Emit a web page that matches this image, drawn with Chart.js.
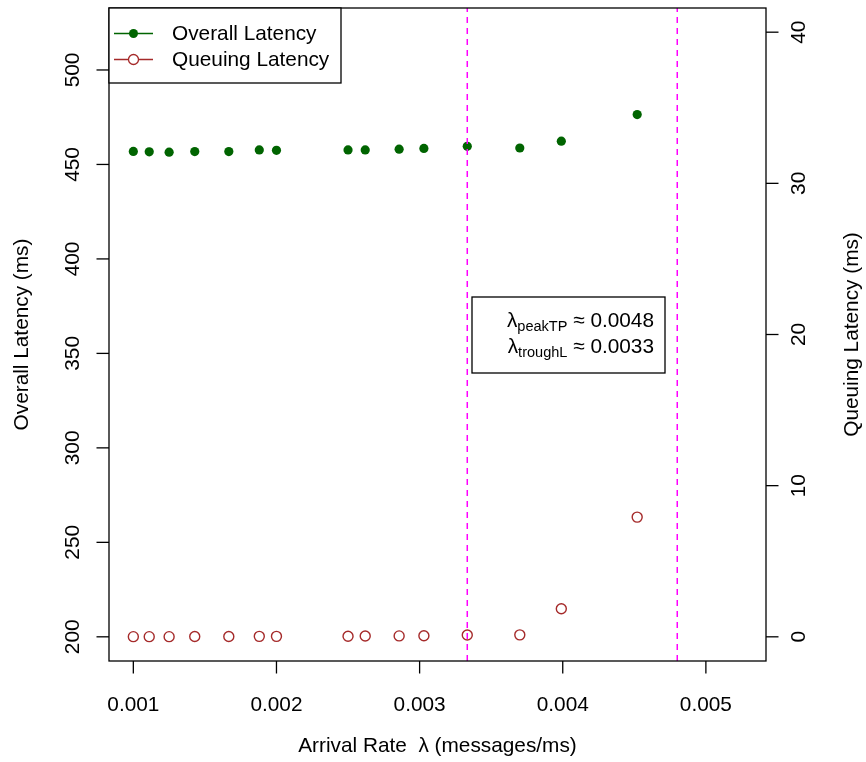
<!DOCTYPE html>
<html>
<head>
<meta charset="utf-8">
<title>Latency vs arrival rate</title>
<script src="https://cdn.jsdelivr.net/npm/chart.js@4.4.0/dist/chart.umd.min.js"></script>
<style>
  html, body { margin: 0; padding: 0; background: #fff; }
  canvas { display: block; }
</style>
</head>
<body>
<canvas id="latencyChart" width="866" height="762"></canvas>
<script>
// Arrival rate lambda (messages/ms) for each run
const arrivalRates = [0.001, 0.001111, 0.00125, 0.001429, 0.001667, 0.00188, 0.002,
    0.0025, 0.00262, 0.002857, 0.00303, 0.003333, 0.0037, 0.00399, 0.00452];

// Overall latency (ms), left axis
const overallLatency = [456.9, 456.7, 456.5, 456.8, 456.8, 457.7, 457.5,
    457.7, 457.7, 458.1, 458.5, 459.6, 458.7, 462.3, 476.4];

// Queuing latency (ms), right axis
const queuingLatency = [0.01, 0.01, 0.01, 0.02, 0.02, 0.03, 0.03,
    0.04, 0.05, 0.06, 0.07, 0.12, 0.13, 1.86, 7.92];

// Marked rates
const peakThroughputRate = 0.0048;
const troughLatencyRate = 0.003333;

// Tick labels
const xTicks = [0.001, 0.002, 0.003, 0.004, 0.005];
const xTickLabels = ['0.001', '0.002', '0.003', '0.004', '0.005'];
const leftTicks = [200, 250, 300, 350, 400, 450, 500];
const rightTicks = [0, 10, 20, 30, 40];

const FONT = '"Liberation Sans", Arial, Helvetica, sans-serif';
const FS = 20.8;
const GREEN = '#006400';
const BROWN = '#A52A2A';
const MAGENTA = '#FF00FF';

const X_MIN = 0.00083, X_MAX = 0.00542;
const Y_MIN = 187.2, Y_MAX = 532.8;
const Y1_MIN = -1.6, Y1_MAX = 41.6;

function pairs(xs, ys) {
    return xs.map((x, i) => ({ x: x, y: ys[i] }));
}

function vline(x) {
    return [{ x: x, y: Y_MIN }, { x: x, y: Y_MAX }];
}

/**
 * Draw rotated text (reading bottom to top) centred on (x, y)
 */
function rotatedText(ctx, text, x, y) {
    ctx.save();
    ctx.translate(x, y);
    ctx.rotate(-Math.PI / 2);
    ctx.textAlign = 'center';
    ctx.textBaseline = 'middle';
    ctx.fillText(text, 0, 0);
    ctx.restore();
}

/**
 * Draw lambda with a subscript, then " ≈ value", right aligned at xRight
 */
function lambdaLine(ctx, sub, value, xRight, baseline) {
    const big = FS + 'px ' + FONT;
    const small = (FS * 0.7) + 'px ' + FONT;
    ctx.textBaseline = 'alphabetic';
    ctx.textAlign = 'left';
    ctx.font = big;
    const tail = ' \u2248 ' + value;
    const tailW = ctx.measureText(tail).width;
    const lamW = ctx.measureText('\u03BB').width;
    ctx.font = small;
    const subW = ctx.measureText(sub).width;
    let x = xRight - tailW - subW - lamW;
    ctx.font = big;
    ctx.fillText('\u03BB', x, baseline);
    x += lamW;
    ctx.font = small;
    ctx.fillText(sub, x, baseline + 3.5);
    x += subW;
    ctx.font = big;
    ctx.fillText(tail, x, baseline);
}

// Base-R style frame, axes, legend and note
const baseAxes = {
    id: 'baseAxes',
    afterDraw(chart) {
        const ctx = chart.ctx;
        const area = chart.chartArea;
        const xs = chart.scales.x;
        const ys = chart.scales.y;
        const ys1 = chart.scales.y1;
        const tick = 12.5;

        ctx.save();
        ctx.strokeStyle = '#000';
        ctx.fillStyle = '#000';
        ctx.lineWidth = 1.3;

        // plot box
        ctx.strokeRect(area.left, area.top, area.right - area.left, area.bottom - area.top);

        ctx.font = FS + 'px ' + FONT;

        // bottom axis
        ctx.textAlign = 'center';
        ctx.textBaseline = 'middle';
        xTicks.forEach((v, i) => {
            const px = xs.getPixelForValue(v);
            ctx.beginPath();
            ctx.moveTo(px, area.bottom);
            ctx.lineTo(px, area.bottom + tick);
            ctx.stroke();
            ctx.fillText(xTickLabels[i], px, 705);
        });

        // left axis
        leftTicks.forEach(v => {
            const py = ys.getPixelForValue(v);
            ctx.beginPath();
            ctx.moveTo(area.left - tick, py);
            ctx.lineTo(area.left, py);
            ctx.stroke();
            rotatedText(ctx, String(v), 73, py);
        });

        // right axis
        rightTicks.forEach(v => {
            const py = ys1.getPixelForValue(v);
            ctx.beginPath();
            ctx.moveTo(area.right, py);
            ctx.lineTo(area.right + tick, py);
            ctx.stroke();
            rotatedText(ctx, String(v), 799, py);
        });

        // axis titles
        ctx.textAlign = 'center';
        ctx.textBaseline = 'middle';
        ctx.fillText('Arrival Rate  \u03BB (messages/ms)', (area.left + area.right) / 2, 746);
        rotatedText(ctx, 'Overall Latency (ms)', 22, (area.top + area.bottom) / 2);
        rotatedText(ctx, 'Queuing Latency (ms)', 852, (area.top + area.bottom) / 2);

        // legend
        const lx = area.left, ly = area.top, lw = 232, lh = 75;
        ctx.fillStyle = '#fff';
        ctx.fillRect(lx, ly, lw, lh);
        ctx.strokeStyle = '#000';
        ctx.strokeRect(lx, ly, lw, lh);
        const rows = [
            { label: 'Overall Latency', color: GREEN, filled: true, y: ly + 25.5 },
            { label: 'Queuing Latency', color: BROWN, filled: false, y: ly + 51.5 }
        ];
        rows.forEach(r => {
            ctx.strokeStyle = r.color;
            ctx.lineWidth = 1.3;
            ctx.beginPath();
            ctx.moveTo(lx + 5, r.y);
            ctx.lineTo(lx + 44, r.y);
            ctx.stroke();
            ctx.beginPath();
            ctx.arc(lx + 24.5, r.y, r.filled ? 4.5 : 5, 0, Math.PI * 2);
            if (r.filled) {
                ctx.fillStyle = r.color;
                ctx.fill();
            } else {
                ctx.fillStyle = '#fff';
                ctx.fill();
                ctx.stroke();
            }
            ctx.fillStyle = '#000';
            ctx.textAlign = 'left';
            ctx.textBaseline = 'middle';
            ctx.fillText(r.label, lx + 63, r.y + 1);
        });

        // note box
        ctx.fillStyle = '#fff';
        ctx.fillRect(472, 297, 193, 76);
        ctx.strokeStyle = '#000';
        ctx.lineWidth = 1.3;
        ctx.strokeRect(472, 297, 193, 76);
        ctx.fillStyle = '#000';
        lambdaLine(ctx, 'peakTP', peakThroughputRate.toFixed(4), 654, 327);
        lambdaLine(ctx, 'troughL', troughLatencyRate.toFixed(4), 654, 353);

        ctx.restore();
    }
};

new Chart(document.getElementById('latencyChart'), {
    type: 'scatter',
    data: {
        datasets: [
            {
                label: 'Overall Latency',
                data: pairs(arrivalRates, overallLatency),
                yAxisID: 'y',
                backgroundColor: GREEN,
                borderColor: GREEN,
                borderWidth: 0,
                pointRadius: 4.6,
                pointHoverRadius: 4.6,
                order: 2
            },
            {
                label: 'Queuing Latency',
                data: pairs(arrivalRates, queuingLatency),
                yAxisID: 'y1',
                backgroundColor: 'rgba(0,0,0,0)',
                borderColor: BROWN,
                borderWidth: 1.4,
                pointRadius: 5,
                pointHoverRadius: 5,
                order: 2
            },
            {
                type: 'line',
                label: 'trough',
                data: vline(troughLatencyRate),
                yAxisID: 'y',
                borderColor: MAGENTA,
                borderWidth: 1.5,
                borderDash: [6, 5],
                pointRadius: 0,
                showLine: true,
                fill: false,
                order: 1
            },
            {
                type: 'line',
                label: 'peak',
                data: vline(peakThroughputRate),
                yAxisID: 'y',
                borderColor: MAGENTA,
                borderWidth: 1.5,
                borderDash: [6, 5],
                pointRadius: 0,
                showLine: true,
                fill: false,
                order: 1
            }
        ]
    },
    options: {
        responsive: false,
        devicePixelRatio: 1,
        animation: false,
        layout: {
            padding: { left: 109, right: 100, top: 8, bottom: 101 }
        },
        plugins: {
            legend: { display: false },
            title: { display: false },
            tooltip: { enabled: false }
        },
        scales: {
            x: { type: 'linear', min: X_MIN, max: X_MAX, display: false },
            y: { type: 'linear', position: 'left', min: Y_MIN, max: Y_MAX, display: false },
            y1: { type: 'linear', position: 'right', min: Y1_MIN, max: Y1_MAX, display: false }
        }
    },
    plugins: [baseAxes]
});
</script>
</body>
</html>
